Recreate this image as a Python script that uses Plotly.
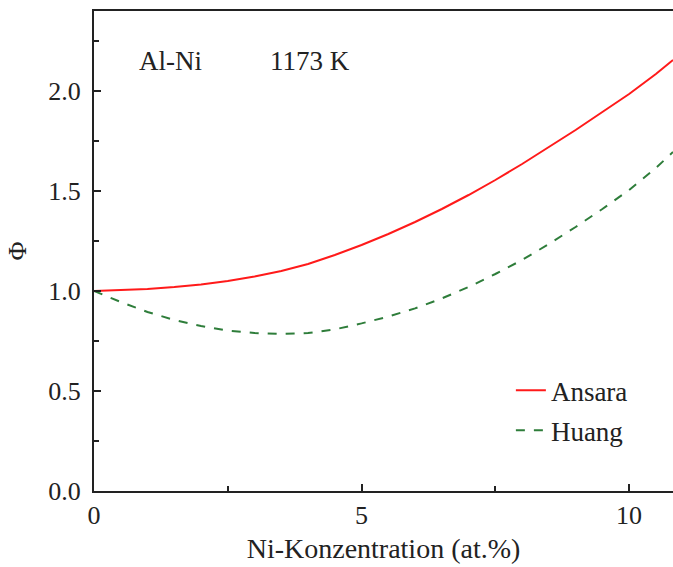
import plotly.graph_objects as go

x_ansara = [0, 0.5, 1, 1.5, 2, 2.5, 3, 3.5, 4, 4.5, 5, 5.5, 6, 6.5, 7, 7.5, 8, 8.5, 9, 9.5, 10, 10.5, 10.82]
y_ansara = [1.0, 1.004, 1.01, 1.02, 1.033, 1.05, 1.072, 1.1, 1.135, 1.18, 1.23, 1.285, 1.345, 1.41, 1.48, 1.555, 1.635, 1.72, 1.805, 1.895, 1.985, 2.085, 2.155]
x_huang = [0, 0.5, 1, 1.5, 2, 2.5, 3, 3.5, 4, 4.5, 5, 5.5, 6, 6.5, 7, 7.5, 8, 8.5, 9, 9.5, 10, 10.5, 10.82]
y_huang = [1.0, 0.945, 0.895, 0.855, 0.825, 0.802, 0.79, 0.785, 0.79, 0.808, 0.838, 0.872, 0.913, 0.963, 1.02, 1.085, 1.155, 1.235, 1.32, 1.41, 1.505, 1.615, 1.695]

font = "serif"

fig = go.Figure()
fig.add_trace(go.Scatter(x=x_ansara, y=y_ansara, mode="lines", name="Ansara",
                         line=dict(color="#ff1a1a", width=2), legendgroup="a"))
fig.add_trace(go.Scatter(x=x_huang, y=y_huang, mode="lines", name="Huang",
                         line=dict(color="#2e7d3a", width=2, dash="dash"), legendgroup="b"))

fig.update_layout(
    width=673, height=567,
    margin=dict(l=94, r=0, t=11, b=76),
    paper_bgcolor="white", plot_bgcolor="white",
    font=dict(family=font, size=26, color="#222"),
    legend=dict(x=0.72, y=0.26, xanchor="left", yanchor="top",
                font=dict(size=27, family=font), bgcolor="rgba(0,0,0,0)",
                tracegroupgap=2),
    xaxis=dict(range=[0, 10.82], showline=True, linecolor="#222", linewidth=2,
               mirror=True, ticks="inside", ticklen=7, tickwidth=1.5, tickcolor="#222",
               tickvals=[0, 5, 10], showgrid=False, zeroline=False,
               tickfont=dict(size=26, family=font),
               minor=dict(tickvals=[2.5, 7.5], ticks="inside", ticklen=5, tickcolor="#222"),
               title=dict(text="Ni-Konzentration (at.%)", standoff=9, font=dict(size=28, family=font))),
    yaxis=dict(range=[0, 2.4], showline=True, linecolor="#222", linewidth=2,
               mirror=False, ticks="inside", ticklen=7, tickwidth=1.5, tickcolor="#222",
               tickvals=[0, 0.5, 1.0, 1.5, 2.0], ticktext=["0.0", "0.5", "1.0", "1.5", "2.0"],
               showgrid=False, zeroline=False, tickfont=dict(size=26, family=font), ticklabelstandoff=6,
               minor=dict(tickvals=[0.25, 0.75, 1.25, 1.75, 2.25], ticks="inside", ticklen=5, tickcolor="#222"),
               title=dict(text="Φ", standoff=14, font=dict(size=26, family=font))),
    annotations=[
        dict(text="Al-Ni", x=0.074, y=0.895, xref="paper", yref="paper", showarrow=False,
             xanchor="left", yanchor="middle", font=dict(size=27, family=font)),
        dict(text="1173 K", x=0.3, y=0.895, xref="paper", yref="paper", showarrow=False,
             xanchor="left", yanchor="middle", font=dict(size=27, family=font)),
    ],
)

fig.write_html("out.html")
